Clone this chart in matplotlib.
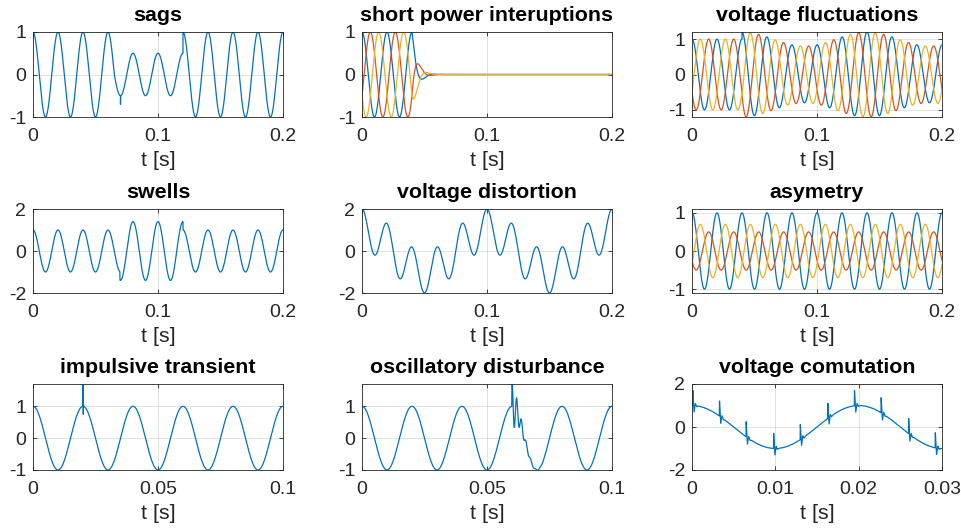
import numpy as np
import matplotlib
matplotlib.use("Agg")
import matplotlib.pyplot as plt

plt.rcParams['font.family'] = ['Liberation Sans', 'DejaVu Sans']
plt.rcParams['axes.unicode_minus'] = False

# ---------------- values ----------------
titles = ["sags", "short power interuptions", "voltage fluctuations",
          "swells", "voltage distortion", "asymetry",
          "impulsive transient", "oscillatory disturbance", "voltage comutation"]
f_grid = 50.0                       # fundamental frequency [Hz]
t_spans = [0.2, 0.2, 0.2, 0.2, 0.2, 0.2, 0.1, 0.1, 0.03]
x_ticks = [[0, 0.1, 0.2]] * 6 + [[0, 0.05, 0.1]] * 2 + [[0, 0.01, 0.02, 0.03]]
x_tick_labels = [["0", "0.1", "0.2"]] * 6 + [["0", "0.05", "0.1"]] * 2 + \
                [["0", "0.01", "0.02", "0.03"]]
y_limits = [(-1, 1), (-1, 1), (-1.2, 1.2), (-2, 2), (-2, 2), (-1.1, 1.1),
            (-1, 1.7), (-1, 1.7), (-2, 2)]
y_ticks = [[-1, 0, 1], [-1, 0, 1], [-1, 0, 1], [-2, 0, 2], [-2, 0, 2],
           [-1, 0, 1], [-1, 0, 1], [-1, 0, 1], [-2, 0, 2]]
y_tick_labels = [[str(v) for v in tk] for tk in y_ticks]

# sags
sag_window = (0.065, 0.12)
sag_level = 0.5
sag_tick_time = 0.07
sag_tick_depth = -0.2
# short power interruptions (blue, orange, yellow)
intr_phases = [0, -120, 120]
intr_start = 0.04
intr_tau = 0.004
# voltage fluctuations
fluct_phases = [0, 120, -120]
fluct_start = 0.04
fluct_depth = 0.2
fluct_freq = 10.0
# swells
swell_window = (0.0695, 0.12)
swell_level = 1.4
# voltage distortion
dist_freqs = [10.0, 50.0]
dist_amps = [1.0, 1.0]
# asymetry
asym_phases = [0, 120, -120]
asym_amps = [1.0, 0.5, 0.7]
# impulsive transient
imp_time = 0.02
imp_offsets_t = [-1e-5, 0.0, 1e-4, 2e-4, 3e-4]
imp_offsets_v = [0.0, 1.0, -0.25, 0.05, 0.0]
# oscillatory disturbance
osc_start = 0.06
osc_amp = 0.9
osc_freq = 530.0
osc_tau = 0.0025
osc_fs = 10000.0
# voltage comutation notches
notch_times = [0.0001, 0.0033, 0.0065, 0.0098, 0.0130, 0.0163, 0.0195,
               0.0227, 0.0260, 0.0292]
notch_offsets_t = [-2e-5, 0.0, 1.5e-4, 3.0e-4, 4.5e-4, 6.5e-4]
notch_offsets_v = [0.0, 0.7, -0.3, 0.1, -0.04, 0.0]

colors = ["#0072BD", "#D95319", "#EDB120"]
fs = 100000.0


def tgrid(span, rate=fs):
    return np.linspace(0, span, int(round(span * rate)) + 1)


def bump(t, t0, offs_t, offs_v):
    return np.interp(t - t0, offs_t, offs_v, left=0.0, right=0.0)


w = 2 * np.pi * f_grid
series = []
# 1 sags
t = tgrid(t_spans[0])
amp = np.where((t >= sag_window[0]) & (t < sag_window[1]), sag_level, 1.0)
y = amp * np.cos(w * t) + bump(t, sag_tick_time, [-1e-5, 0, 1e-5, 1e-4],
                                 [0, sag_tick_depth, sag_tick_depth, 0])
series.append([(t, y)])
# 2 short interruptions
t = tgrid(t_spans[1])
env = np.where(t < intr_start, 1.0, np.exp(-(t - intr_start) / intr_tau))
series.append([(t, env * np.cos(w * t + np.deg2rad(p))) for p in intr_phases])
# 3 fluctuations
t = tgrid(t_spans[2])
env = np.where(t < fluct_start, 1.0,
               1 + fluct_depth * np.cos(2 * np.pi * fluct_freq * (t - fluct_start)))
series.append([(t, env * np.cos(w * t + np.deg2rad(p))) for p in fluct_phases])
# 4 swells
t = tgrid(t_spans[3])
amp = np.where((t >= swell_window[0]) & (t < swell_window[1]), swell_level, 1.0)
series.append([(t, amp * np.cos(w * t))])
# 5 distortion
t = tgrid(t_spans[4])
y = sum(a * np.cos(2 * np.pi * f * t) for f, a in zip(dist_freqs, dist_amps))
series.append([(t, y)])
# 6 asymetry
t = tgrid(t_spans[5])
series.append([(t, a * np.cos(w * t + np.deg2rad(p)))
               for p, a in zip(asym_phases, asym_amps)])
# 7 impulsive transient
t = tgrid(t_spans[6])
series.append([(t, np.cos(w * t) + bump(t, imp_time, imp_offsets_t, imp_offsets_v))])
# 8 oscillatory disturbance
t = tgrid(t_spans[7], osc_fs)
dt = t - osc_start
trans = np.where(dt >= 0, osc_amp * np.exp(-np.clip(dt, 0, None) / osc_tau)
                 * np.cos(2 * np.pi * osc_freq * dt), 0.0)
series.append([(t, np.cos(w * t) + trans)])
# 9 comutation
t = tgrid(t_spans[8])
y = np.cos(w * t)
for tn in notch_times:
    y = y + bump(t, tn, notch_offsets_t, notch_offsets_v)
series.append([(t, y)])

# ---------------- layout ----------------
W, H = 961, 531
fig = plt.figure(figsize=(W / 100, H / 100), dpi=100)
lefts = [33, 362, 692]
tops = [32, 209, 384]
heights = [85, 84, 86]
width = 250
edge = "#262626"

for i in range(9):
    r, c = divmod(i, 3)
    ax = fig.add_axes([lefts[c] / W, 1 - (tops[r] + heights[r]) / H,
                       width / W, heights[r] / H])
    for k, (tt, yy) in enumerate(series[i]):
        ax.plot(tt, yy, color=colors[k], lw=0.9)
    ax.set_xlim(0, t_spans[i])
    ax.set_ylim(*y_limits[i])
    ax.set_xticks(x_ticks[i])
    ax.set_xticklabels(x_tick_labels[i])
    ax.set_yticks(y_ticks[i])
    ax.set_yticklabels(y_tick_labels[i])
    ax.grid(True, color=edge, alpha=0.15, lw=0.6)
    ax.tick_params(direction="in", length=3, width=0.6, colors=edge,
                   labelsize=14, top=True, right=True, pad=5)
    ax.tick_params(axis="x", pad=8)
    for s in ax.spines.values():
        s.set_color(edge)
        s.set_linewidth(0.6)
    ax.set_title(titles[i], fontsize=15.4, fontweight="bold", pad=8, color="black")
    ax.set_xlabel("t [s]", fontsize=15.4, color=edge, labelpad=4)

fig.savefig("out.png", dpi=100)
